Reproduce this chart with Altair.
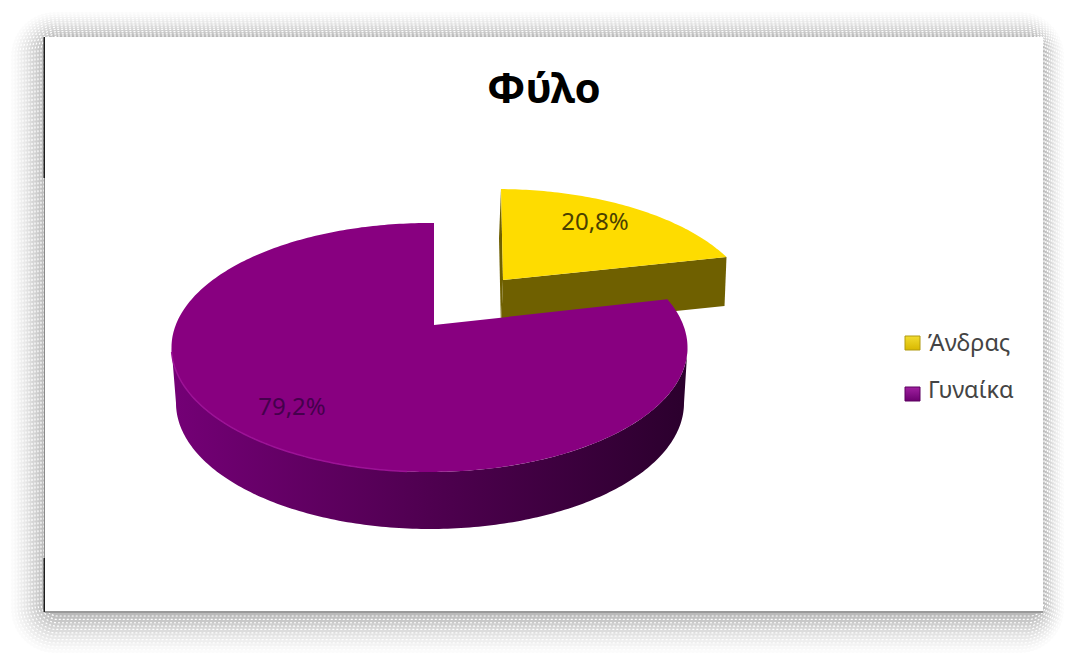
import cmath
import math
import altair as alt

# Survey figures
title_text = "Φύλο"
categories = ["Άνδρας", "Γυναίκα"]
shares = [20.8, 79.2]

# Pie geometry on the page, in pixels
RX, RY = 258, 124.5
MAIN_RIM = (429.5, 347.5)
MAIN_APEX = (434, 325)
MAIN_FLOOR = (430, 403, 254, 126)
SLICE_SHIFT = (67, -34)
SLICE_APEX = (503, 280)
SLICE_DROP = (-2, 49)
FONT = "Noto Sans"


def rim_angle(phi_deg, tilt):
    # Perspective squeezes the far side of the disc and stretches the near side
    z = cmath.exp(1j * math.radians(phi_deg))
    a = -1j * tilt
    w = (z + a) / (1 + a.conjugate() * z)
    return math.degrees(cmath.phase(w)) + 1


def unwrap(angles):
    out = [angles[0]]
    for v in angles[1:]:
        while v - out[-1] > 180:
            v -= 360
        while v - out[-1] < -180:
            v += 360
        out.append(v)
    return out


def rim_points(center, start, sweep, tilt, rx=RX, ry=RY):
    n = max(2, int(abs(sweep)))
    raw = unwrap([rim_angle(start + sweep * i / n, tilt) for i in range(n + 1)])
    pts = []
    for t in raw:
        r = math.radians(t)
        pts.append([center[0] + rx * math.cos(r), center[1] + ry * math.sin(r)])
    return pts


def ellipse_arc(cx, cy, rx, ry, a0, a1):
    step = 1 if a1 > a0 else -1
    return [
        [cx + rx * math.cos(math.radians(t)), cy + ry * math.sin(math.radians(t))]
        for t in range(a0, a1 + step, step)
    ]


def shape(points, closed=True):
    if closed:
        geom = {"type": "Polygon", "coordinates": [points + [points[0]]]}
    else:
        geom = {"type": "LineString", "coordinates": points}
    return alt.Data(values=[{"type": "Feature", "properties": {}, "geometry": geom}])


PLANE = alt.Projection(type="identity", scale=1, translate=[0, 0])


def geo(points, closed=True, **style):
    return alt.Chart(shape(points, closed)).mark_geoshape(**style).project(**PLANE.to_dict())


def box(left, top, right, bottom, **style):
    return alt.Chart(alt.Data(values=[{}])).mark_rect(**style).encode(
        x=alt.value(left), x2=alt.value(right), y=alt.value(top), y2=alt.value(bottom)
    )


def label(text, x, y, **style):
    return alt.Chart(alt.Data(values=[{"t": text}])).mark_text(font=FONT, **style).encode(
        x=alt.value(x), y=alt.value(y), text="t:N"
    )


# Halftone frame: nested rounded outlines stepping from pale to mid grey
OUTER = (11, 12, 1064, 653)
INNER = (44, 36, 1044, 616)
RINGS = 12
frame = []
for i in range(RINGS):
    f = i / (RINGS - 1)
    edges = [o + (n - o) * f for o, n in zip(OUTER, INNER)]
    grey = int(251 - 66 * f ** 1.3)
    frame.append(
        box(
            *edges,
            cornerRadius=44 - 30 * f,
            fill=f"rgb({grey},{grey},{grey})",
            stroke="#ffffff",
            strokeWidth=1.2,
            strokeDash=[2, 2],
        )
    )

slide = [
    box(45, 37, 1043, 612, fill="#ffffff"),
    box(45, 611, 1043, 613, fill="#9a9a9a"),
    box(43.5, 37, 45, 178, fill="#1c1c1c"),
    box(44, 178, 45, 558, fill="#8a8a8a"),
    box(43.5, 558, 45, 612, fill="#1c1c1c"),
]

# Detached slice: its walls first, then its top face
slice_sweep = shares[0] / 100 * 360
slice_center = (MAIN_RIM[0] + SLICE_SHIFT[0], MAIN_RIM[1] + SLICE_SHIFT[1])
slice_rim = rim_points(slice_center, -90, slice_sweep, 0.12)
slice_start, slice_end = slice_rim[0], slice_rim[-1]


def dropped(p):
    return [p[0] + SLICE_DROP[0], p[1] + SLICE_DROP[1]]


slice_layers = [
    geo([list(SLICE_APEX), slice_end, dropped(slice_end), dropped(SLICE_APEX)], fill="#6f6000"),
    geo([slice_start, list(SLICE_APEX), dropped(SLICE_APEX), dropped(slice_start)], fill="#6f6000"),
    geo([list(SLICE_APEX)] + slice_rim, fill="#fedc00"),
]

# Large slice: wall band under the near rim, then top face and rim highlight
main_sweep = -shares[1] / 100 * 360
main_rim = rim_points(MAIN_RIM, -90, main_sweep, 0.08)
fx, fy, frx, fry = MAIN_FLOOR
wall = ellipse_arc(MAIN_RIM[0], MAIN_RIM[1], RX, RY, 0, 180) + ellipse_arc(fx, fy, frx, fry, 180, 0)
wall_fill = alt.Gradient(
    gradient="linear",
    x1=0, x2=1, y1=0, y2=0,
    stops=[
        alt.GradientStop(offset=0, color="#740076"),
        alt.GradientStop(offset=0.5, color="#4f0050"),
        alt.GradientStop(offset=1, color="#2b002d"),
    ],
)
main_layers = [
    geo(wall, fill=wall_fill),
    geo([list(MAIN_APEX)] + main_rim, fill="#880080"),
    geo(ellipse_arc(MAIN_RIM[0], MAIN_RIM[1], RX, RY, 178, 95), closed=False,
        filled=False, stroke="#9c1296", strokeWidth=1.5),
]

# Title, value labels and legend
swatch_yellow = alt.Gradient(
    gradient="linear", x1=0, x2=0, y1=0, y2=1,
    stops=[
        alt.GradientStop(offset=0, color="#f2dc30"),
        alt.GradientStop(offset=1, color="#d8b800"),
    ],
)
swatch_purple = alt.Gradient(
    gradient="linear", x1=0, x2=0, y1=0, y2=1,
    stops=[
        alt.GradientStop(offset=0, color="#a020a0"),
        alt.GradientStop(offset=1, color="#6c0070"),
    ],
)
texts = [
    label(title_text, 544, 90, fontSize=42, fontWeight="bold", color="#000000", align="center", baseline="middle"),
    label(f"{shares[0]}%".replace(".", ","), 595, 223, fontSize=24, color="#4a4000", align="center", baseline="middle"),
    label(f"{shares[1]}%".replace(".", ","), 292, 408, fontSize=24, color="#45004c", align="center", baseline="middle"),
    box(905, 336, 920, 350, fill=swatch_yellow, stroke="#b09a10", strokeWidth=1),
    box(905, 387, 920, 401, fill=swatch_purple, stroke="#5c0060", strokeWidth=1),
    label(categories[0], 928, 344, fontSize=23.5, color="#444444", align="left", baseline="middle"),
    label(categories[1], 928, 391, fontSize=23.5, color="#444444", align="left", baseline="middle"),
]

chart = alt.layer(*frame, *slide, *slice_layers, *main_layers, *texts).properties(
    width=1065,
    height=653,
    padding=0,
    autosize=alt.AutoSizeParams(type="none"),
    background="#ffffff",
).configure_view(stroke=None)

chart.save("out.html", embed_options={"renderer": "svg", "actions": False})
